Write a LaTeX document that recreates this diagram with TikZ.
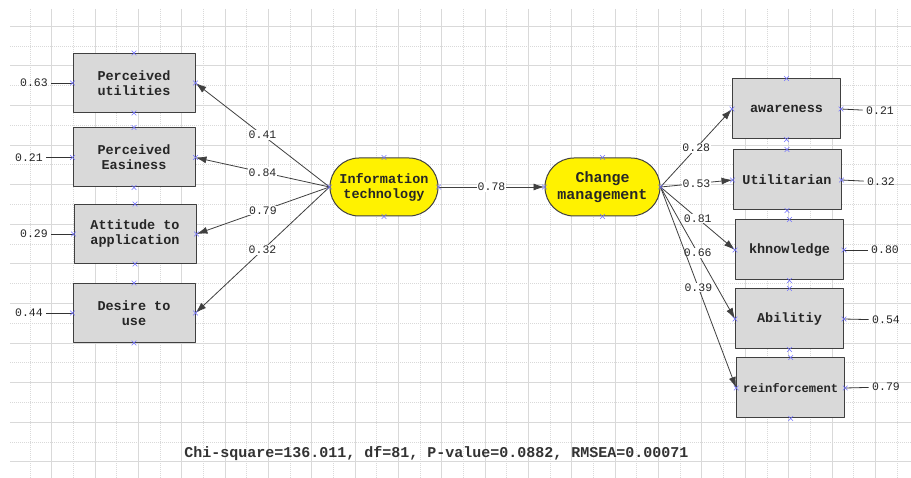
\documentclass[tikz,border=0pt]{standalone}
\usepackage{fontspec}
\newfontfamily\cour{Liberation Mono}
\usetikzlibrary{arrows.meta,shapes.misc}
\begin{document}
\begin{tikzpicture}[x=1pt,y=-1pt,line join=round,
	box/.style={draw=black!75,fill=black!15,line width=1pt,inner sep=0pt,align=center,text=black!85,
		font=\cour\bfseries\fontsize{13.5}{15}\selectfont},
	lbox/.style={box,minimum width=122pt,minimum height=59pt},
	rbox/.style={box,minimum width=108pt,minimum height=60pt},
	lat/.style={box,fill=yellow,rounded corners=29pt,minimum height=58pt},
	num/.style={text=black!85,font=\cour\fontsize{11.5}{13}\selectfont},
	lbl/.style={num,fill=white,inner sep=1pt},
	anch/.style={cross out,draw=blue!55,line width=0.6pt,minimum size=4pt,inner sep=0pt},
	conn/.style={-{Latex[length=11pt,width=7pt]},draw=black!75,line width=0.8pt},
	err/.style={draw=black!80,line width=0.8pt},
	gridline/.style={black!15,line width=0.5pt}]
	\fill[white] (0,0) rectangle (911,478);
	\useasboundingbox (0,0) rectangle (911,478);
	% grid
	\foreach \i in {2,4,...,40}
	\draw[gridline] ({8.3+21.67*\i},9) -- ++(0,469);
	\foreach \i in {1,3,...,41}
	\draw[gridline,dash pattern=on 1pt off 1pt] ({8.3+21.67*\i},9) -- ++(0,469);
	\foreach \k in {0,2,...,22}
	\draw[gridline] (10,{26+19.8*\k}) -- (911,{26+19.8*\k});
	\foreach \k in {1,3,...,21}
	\draw[gridline,dash pattern=on 1pt off 1pt] (10,{26+19.8*\k}) -- (911,{26+19.8*\k});
	% nodes
	\node[lbox] (pu) at (134,83) {Perceived\\utilities};
	\node[lbox] (pe) at (134,157.5) {Perceived\\Easiness};
	\node[lbox] (aa) at (135,234) {Attitude to\\application};
	\node[lbox] (du) at (134,313) {Desire to\\use};
	\node[lat,minimum width=108pt] (it) at (384,187) {Information\\technology};
	\node[lat,minimum width=115pt,font=\cour\bfseries\fontsize{15}{16.5}\selectfont] (cm) at (602.5,187) {Change\\management};
	\node[rbox] (aw) at (786.5,109) {awareness};
	\node[rbox] (ut) at (787,180) {Utilitarian};
	\node[rbox] (kn) at (789.5,250) {khnowledge};
	\node[rbox] (ab) at (789.5,319) {Abilitiy};
	\node[rbox,font=\cour\bfseries\fontsize{12.2}{14}\selectfont] (re) at (790.7,388) {reinforcement};
	% paths
	\foreach \n/\v in {pu/0.41,pe/0.84,aa/0.79,du/0.32}
	\draw[conn] (it.west) -- node[lbl] {\v} (\n.east);
	\draw[conn] (it.east) -- node[lbl] {0.78} (cm.west);
	\foreach \n/\v in {aw/0.28,ut/0.53,kn/0.81,ab/0.66,re/0.39}
	\draw[conn] (cm.east) -- node[lbl] {\v} (\n.west);
	% error terms
	\foreach \n/\v/\x/\y in {pu/0.63/34/83,pe/0.21/29/157.5,aa/0.29/34/234,du/0.44/29/313}{
		\node[num] (\n-e) at (\x,\y) {\v};
		\draw[err] (\n-e) -- (\n.west);
	}
	\foreach \n/\v/\x/\y in {aw/0.21/880/111,ut/0.32/881/182,kn/0.80/885/250,ab/0.54/886/320,re/0.79/886/387}{
		\node[num] (\n-e) at (\x,\y) {\v};
		\draw[err] (\n.east) -- (\n-e);
	}
	% anchor marks
	\foreach \n in {pu,pe,aa,du,it,cm,aw,ut,kn,ab,re}
	\foreach \a in {north,south,east,west}
	\node[anch] at (\n.\a) {};
	\node[text=black!80,font=\cour\bfseries\fontsize{15}{17}\selectfont] (fit) at (436.5,454)
		{Chi-square=136.011, df=81, P-value=0.0882, RMSEA=0.00071};
\end{tikzpicture}
\end{document}
